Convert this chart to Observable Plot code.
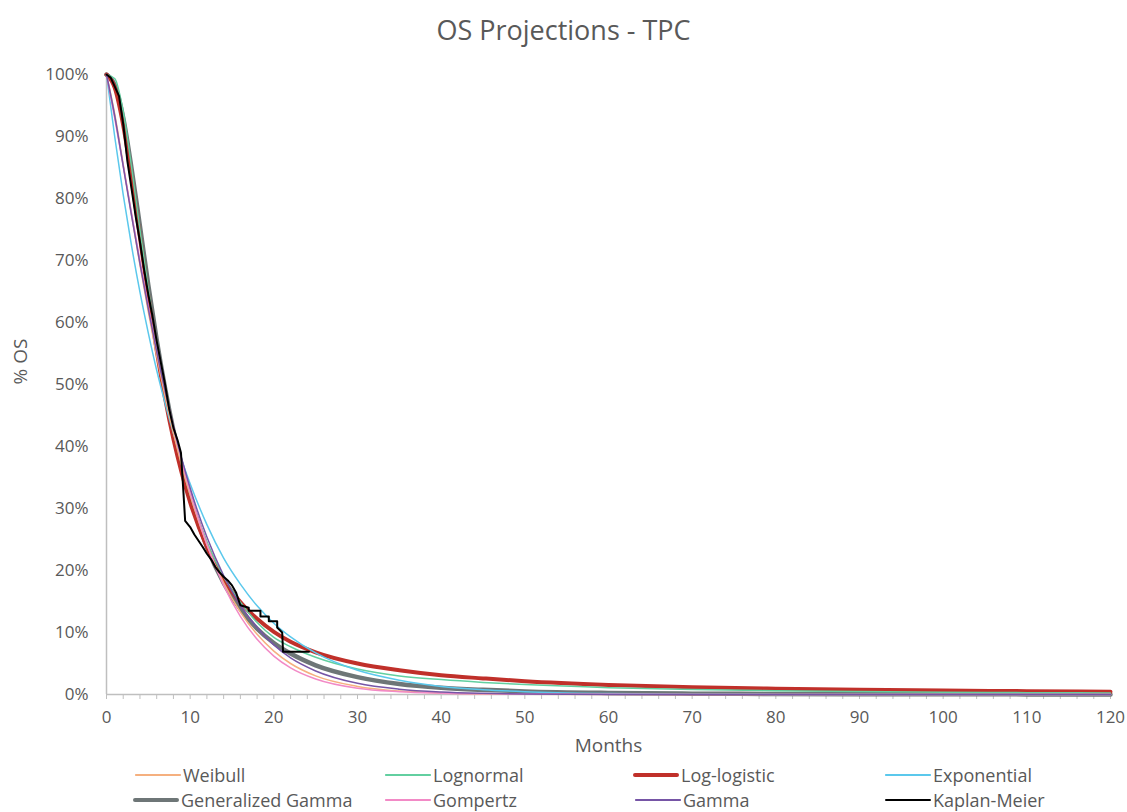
<!DOCTYPE html>
<html>
<head>
<meta charset="utf-8">
<script src="https://cdn.jsdelivr.net/npm/d3@7"></script>
<script src="https://cdn.jsdelivr.net/npm/@observablehq/plot@0.6"></script>
<style>
  body { margin: 0; background: #fff; font-family: "Open Sans", sans-serif; }
  #title { height: 58px; line-height: 60px; text-align: center; font-size: 27px; color: #595959; width: 1127px; }
  #legend { position: relative; width: 1127px; height: 54px; }
  .item { position: absolute; display: flex; align-items: center; height: 22px; font-size: 18px; color: #595959; white-space: nowrap; }
  .sw { width: 46px; margin-right: 2px; }
</style>
</head>
<body>
<div id="title">OS Projections - TPC</div>
<div id="chart"></div>
<div id="legend"></div>
<script>
// ---- data (percent survival) ----
const months = [0,1,2,3,4,5,6,7,8,9,10,12,14,16,18,20,22,25,30,35,40,45,50,60,70,80,90,100,110,120];

const weibull     = [100,93.5,85.5,77.3,69.3,61.7,54.6,48.1,42.2,36.9,32.2,24.2,18.0,13.3,9.7,7.0,5.0,3.0,1.3,0.55,0.25,0.1,0.04,0.01,0,0,0,0,0,0];
const lognormal   = [100,99.3,94.0,85.0,75.0,65.5,56.8,49.2,42.6,37.0,32.2,24.6,19.0,14.9,11.6,9.2,7.7,6.0,4.1,3.0,2.4,1.95,1.6,1.1,0.8,0.6,0.47,0.37,0.3,0.24];
const loglogistic = [100,97.8,91.8,83.3,73.7,64.2,55.5,47.8,41.2,35.7,31.0,23.8,18.6,14.9,12.2,10.1,8.5,6.8,5.0,3.9,3.1,2.6,2.15,1.55,1.18,0.93,0.76,0.63,0.54,0.46];
const exponential = [100,89.8,80.6,72.3,64.9,58.3,52.3,47.0,42.1,37.8,34.0,27.4,22.0,17.8,14.3,11.5,9.3,6.7,3.9,2.3,1.3,0.77,0.45,0.15,0.05,0.02,0.01,0,0,0];
const genGamma    = [100,98.2,93.0,84.8,75.5,66.0,57.2,49.4,42.6,36.8,31.8,23.8,18.0,13.8,10.6,8.3,6.6,4.7,2.8,1.7,1.1,0.75,0.5,0.25,0.14,0.08,0.05,0.03,0.02,0.01];
const gompertz    = [100,92.8,85.3,77.6,70.0,62.6,55.6,49.1,43.1,37.6,32.6,24.2,17.6,12.6,8.9,6.2,4.3,2.5,1.0,0.45,0.22,0.12,0.07,0.03,0.01,0,0,0,0,0];
const gamma       = [100,93.2,85.2,77.2,69.5,62.2,55.3,49.0,43.2,38.0,33.3,25.4,19.2,14.4,10.8,8.0,5.9,3.8,1.8,0.85,0.4,0.19,0.09,0.02,0.01,0,0,0,0,0];

// Kaplan-Meier polyline vertices (months, % OS)
const kmMonths = [0,0.5,1.0,1.5,2.0,2.5,3.0,3.5,4.0,4.5,5.0,5.5,6.0,6.5,7.0,7.5,8.0,8.5,8.9,9.2,9.4,10.0,10.5,11.0,11.5,12.0,12.5,13.0,13.5,14.0,14.5,15.0,15.5,16.0,17.0,17.0,18.4,18.4,19.4,19.4,20.4,20.4,21.0,21.1,24.2];
const kmValues = [100,99.5,98,96.5,92,86,81.5,77,73,68.5,64.5,61,57,53.5,50,46,43,41,39,32.5,28,27,25.8,24.8,23.8,22.7,21.8,20.6,19.7,19.0,18.4,17.6,16.4,14.4,14.0,13.5,13.5,12.6,12.6,11.8,11.8,10.8,10.0,6.9,6.9];

const yTicks = [0,0.1,0.2,0.3,0.4,0.5,0.6,0.7,0.8,0.9,1.0];
const xTicks = d3.range(0, 121, 2);

// ---- series styles ----
const series = [
  {name: "Weibull",           values: weibull,     color: "#F5B07F", width: 1.5},
  {name: "Lognormal",         values: lognormal,   color: "#62CFA0", width: 1.5},
  {name: "Log-logistic",      values: loglogistic, color: "#C0302A", width: 4},
  {name: "Exponential",       values: exponential, color: "#5BC8EC", width: 1.5},
  {name: "Generalized Gamma", values: genGamma,    color: "#6E7677", width: 4.5},
  {name: "Gompertz",          values: gompertz,    color: "#F28AC6", width: 1.5},
  {name: "Gamma",             values: gamma,       color: "#7655A6", width: 1.5},
  {name: "Kaplan-Meier",      values: null,        color: "#000000", width: 2}
];

const toRows = s => months.map((m, i) => ({month: m, value: s.values[i] / 100}));
const drawOrder = ["Generalized Gamma", "Log-logistic", "Lognormal", "Exponential", "Weibull", "Gompertz", "Gamma"];
const lineMarks = drawOrder.map(n => {
  const s = series.find(d => d.name === n);
  return Plot.line(toRows(s), {x: "month", y: "value", stroke: s.color, strokeWidth: s.width, curve: "monotone-x"});
});
const km = series.find(d => d.name === "Kaplan-Meier");
const kmRows = kmMonths.map((m, i) => ({month: m, value: kmValues[i] / 100}));

const chart = Plot.plot({
  width: 1127,
  height: 700,
  marginTop: 16,
  marginLeft: 106,
  marginRight: 17,
  marginBottom: 64,
  style: {fontFamily: "Open Sans", fontSize: "17px", color: "#595959", background: "white"},
  x: {domain: [0, 120]},
  y: {domain: [0, 1]},
  marks: [
    Plot.axisY({ticks: yTicks, tickFormat: d3.format(".0%"), tickSize: 0, tickPadding: 18, label: null, fill: "#595959"}),
    Plot.axisX({ticks: xTicks, tickFormat: d => d % 10 === 0 ? String(d) : "", tickSize: 5, tickPadding: 11, label: null, stroke: "#bfbfbf", fill: "#595959"}),
    Plot.ruleY([0], {stroke: "#bfbfbf", strokeWidth: 1.5}),
    Plot.ruleX([0], {stroke: "#bfbfbf", strokeWidth: 1.5}),
    ...lineMarks,
    Plot.line(kmRows, {x: "month", y: "value", stroke: km.color, strokeWidth: km.width, curve: "linear"}),
    Plot.text(["Months"], {frameAnchor: "bottom", lineAnchor: "middle", dy: 51, fontSize: 19, fill: "#595959"}),
    Plot.text(["% OS"], {frameAnchor: "left", lineAnchor: "middle", dx: -86, rotate: -90, fontSize: 19, fill: "#595959"})
  ]
});
document.getElementById("chart").appendChild(chart);

// ---- legend ----
const legend = document.getElementById("legend");
const colX = [135, 385, 635, 885];
const rowY = [6, 31];
series.forEach((s, i) => {
  const it = document.createElement("div");
  it.className = "item";
  it.style.left = (colX[i % 4] - (s.width > 3 ? 2 : 0)) + "px";
  it.style.top = rowY[Math.floor(i / 4)] + "px";
  const sw = document.createElement("div");
  sw.className = "sw";
  sw.style.height = s.width + "px";
  sw.style.background = s.color;
  sw.style.borderRadius = (s.width / 2) + "px";
  const tx = document.createElement("span");
  tx.textContent = s.name;
  it.appendChild(sw);
  it.appendChild(tx);
  legend.appendChild(it);
});
</script>
</body>
</html>
